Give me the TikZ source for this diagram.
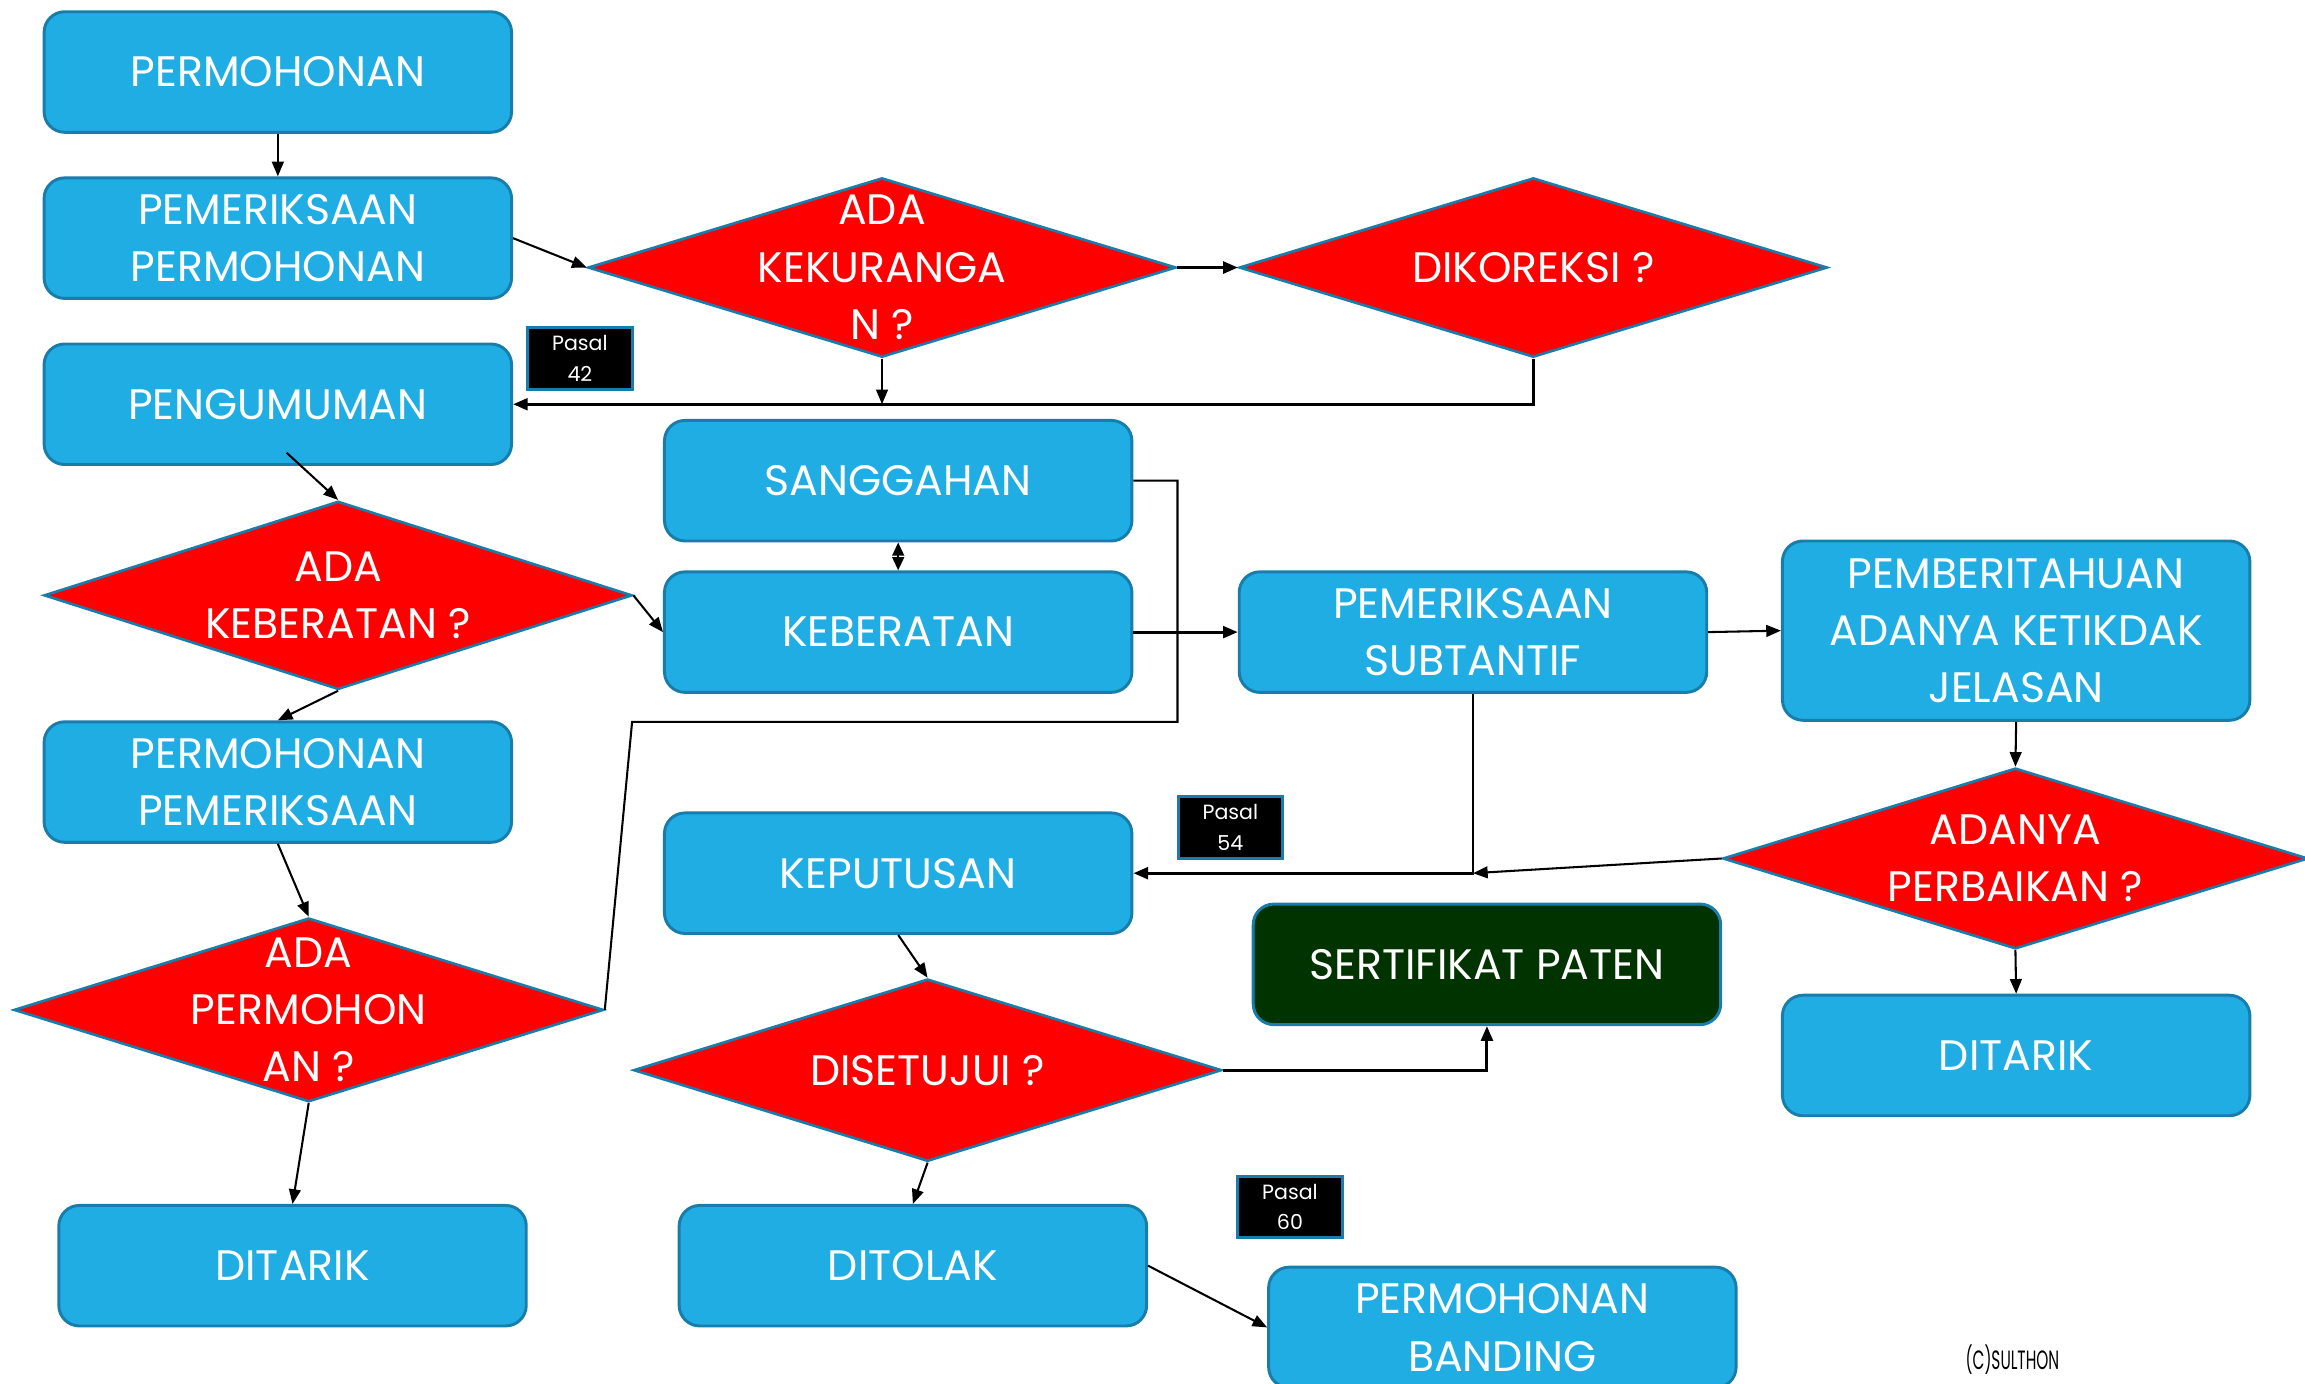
\documentclass[tikz,border=0pt]{standalone}
\usepackage{fontspec}
\setmainfont{Poppins}
\usetikzlibrary{shapes.geometric,arrows.meta,calc}
\definecolor{boxblue}{RGB}{31,173,228}
\definecolor{edgeblue}{RGB}{24,125,170}
\definecolor{darkgreen}{RGB}{0,51,0}
\begin{document}
\begin{tikzpicture}[x=1pt,y=-1pt,
  box/.style={draw=edgeblue,line width=2pt,fill=boxblue,rounded corners=14pt,minimum width=318pt,minimum height=82pt,inner sep=0pt,text=white,align=center,font=\fontsize{29}{39}\selectfont},
  dia/.style={diamond,draw=edgeblue,line width=1.8pt,fill=red,inner sep=0pt},
  dtext/.style={text=white,align=center,font=\fontsize{29}{39}\selectfont},
  tag/.style={draw=edgeblue,line width=2pt,fill=black,text=white,minimum width=71pt,minimum height=42pt,inner sep=0pt,align=center,font=\fontsize{14}{21}\selectfont},
  con/.style={line width=1.4pt,-{Triangle[length=10pt,width=8pt]}},
  thk/.style={line width=2pt},
  ]
\useasboundingbox (0,0) rectangle (1568,941);
\fill[white] (0,0) rectangle (1568,941);

\node[box] (p1) at (189,49) {PERMOHONAN};
\node[box] (p2) at (189,162) {PEMERIKSAAN\\PERMOHONAN};
\node[box] (peng) at (189,275) {PENGUMUMAN};
\node[tag] (t42) at (394.5,244) {Pasal\\42};
\node[dia,minimum width=400pt,minimum height=122pt,label={[dtext]center:{ADA\\KEKURANGA\\N ?}}] (d1) at (600,182) {};
\node[dia,minimum width=400pt,minimum height=122pt,label={[dtext]center:{DIKOREKSI ?}}] (d2) at (1043,182) {};
\node[box] (sang) at (611,327) {SANGGAHAN};
\node[box] (keb) at (611,430) {KEBERATAN};
\node[dia,minimum width=400pt,minimum height=128pt,label={[dtext]center:{ADA\\KEBERATAN ?}}] (kbr) at (230,405) {};
\node[box] (pp) at (189,532) {PERMOHONAN\\PEMERIKSAAN};
\node[dia,minimum width=401pt,minimum height=125pt,label={[dtext]center:{ADA\\PERMOHON\\AN ?}}] (dp) at (210,687) {};
\node[box] (dt1) at (199,861) {DITARIK};
\node[box] (sub) at (1002,430) {PEMERIKSAAN\\SUBTANTIF};
\node[box,minimum height=122pt] (pem) at (1371.5,429) {PEMBERITAHUAN\\ADANYA KETIKDAK\\JELASAN};
\node[dia,minimum width=398pt,minimum height=123pt,label={[dtext]center:{ADANYA\\PERBAIKAN ?}}] (dap) at (1371,584) {};
\node[box] (dt2) at (1371.5,718) {DITARIK};
\node[tag] (t54) at (837,563) {Pasal\\54};
\node[box] (kep) at (611,594) {KEPUTUSAN};
\node[box,fill=darkgreen] (sert) at (1011.5,656) {SERTIFIKAT PATEN};
\node[dia,minimum width=400pt,minimum height=124pt,label={[dtext]center:{DISETUJUI ?}}] (ds) at (631,728) {};
\node[box] (dtl) at (621,861) {DITOLAK};
\node[tag] (t60) at (877.5,821) {Pasal\\60};
\node[box] (band) at (1022,903) {PERMOHONAN\\BANDING};
\node[font=\fontsize{18}{20}\selectfont,xscale=0.58,inner sep=0pt] (cr) at (1369,925) {(C)SULTHON};

\coordinate (a1) at (d1.south |- peng.east);
\coordinate (j) at (sub.south |- kep.east);
\coordinate (s1) at (801,327);
\coordinate (s2) at (801,491);
\coordinate (s3) at (430,491);

\draw[con] (p1.south) -- (p2.north);
\draw[con] (p2.east) -- (d1.west);
\draw[con,thk] (d1.east) -- (d2.west);
\draw[con] (d1.south) -- (a1);
\draw[con,thk] (d2.south) |- (peng.east);
\draw[con] ([xshift=6pt,yshift=9pt]peng.south) -- (kbr.north);
\draw[con] (kbr.east) -- (keb.west);
\draw[con] (kbr.south) -- (pp.north);
\draw[con] (pp.south) -- (dp.north);
\draw[con] (dp.south) -- (dt1.north);
\draw[line width=1.4pt] (dp.east) -- (s3) -- (s2) -- (s1) -- (sang.east);
\draw[line width=1.4pt,{Triangle[length=9pt,width=8pt]}-{Triangle[length=9pt,width=8pt]}] (sang.south) -- (keb.north);
\draw[con,thk] (keb.east) -- (sub.west);
\draw[con] (sub.east) -- (pem.west);
\draw[con] (pem.south) -- (dap.north);
\draw[con] (dap.south) -- (dt2.north);
\draw[con,thk] (sub.south) -- (j) -- (kep.east);
\draw[con] (dap.west) -- (j);
\draw[con] (kep.south) -- (ds.north);
\draw[con,thk] (ds.east) -| (sert.south);
\draw[con] (ds.south) -- (dtl.north);
\draw[con] (dtl.east) -- (band.west);
\end{tikzpicture}
\end{document}
